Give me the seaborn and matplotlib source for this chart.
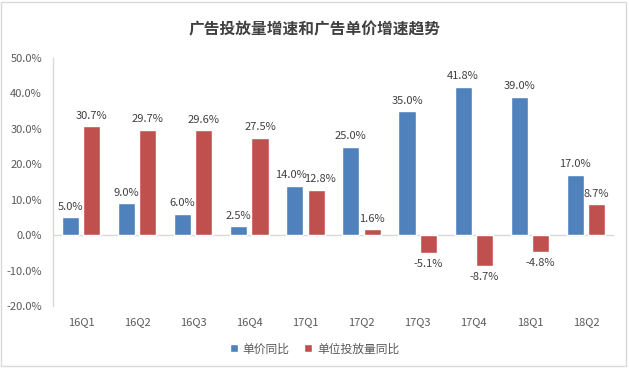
import matplotlib
matplotlib.use("Agg")
import matplotlib.pyplot as plt
import seaborn as sns
import pandas as pd
from matplotlib.patches import Rectangle

categories = ["16Q1", "16Q2", "16Q3", "16Q4", "17Q1", "17Q2", "17Q3", "17Q4", "18Q1", "18Q2"]
price_yoy = [5.0, 9.0, 6.0, 2.5, 14.0, 25.0, 35.0, 41.8, 39.0, 17.0]
volume_yoy = [30.7, 29.7, 29.6, 27.5, 12.8, 1.6, -5.1, -8.7, -4.8, 8.7]
series_names = ["单价同比", "单位投放量同比"]
yticks = [-20, -10, 0, 10, 20, 30, 40, 50]
title = "广告投放量增速和广告单价增速趋势"

sns.set_theme(style="white")
plt.rcParams['font.family'] = ['Noto Sans CJK SC', 'DejaVu Sans']

df = pd.DataFrame({
    "cat": categories * 2,
    "val": price_yoy + volume_yoy,
    "series": [series_names[0]] * len(categories) + [series_names[1]] * len(categories),
})

fig = plt.figure(figsize=(6.29, 3.70), dpi=100)
ax = fig.add_axes([53/629, 1 - 306/370, (614 - 53)/629, (306 - 58)/370])

palette = {series_names[0]: "#4F81BD", series_names[1]: "#C0504D"}
sns.barplot(data=df, x="cat", y="val", hue="series", order=categories,
            hue_order=series_names, palette=palette, width=0.76, gap=0.2,
            saturation=1, ax=ax, legend=True)

ax.set_ylim(-20, 50)
ax.set_yticks(yticks)
ax.set_yticklabels([f"{v:.1f}%" for v in yticks])
ax.set_xlabel("")
ax.set_ylabel("")
tcol = "#595959"
ax.tick_params(axis="both", length=0, labelsize=8, colors=tcol)
ax.tick_params(axis="y", pad=8)
ax.tick_params(axis="x", pad=8)

for s in ["top", "right", "bottom"]:
    ax.spines[s].set_visible(False)
ax.spines["left"].set_color("#D9D9D9")
ax.spines["left"].set_linewidth(1)
ax.axhline(0, color="#D9D9D9", lw=1, zorder=0)

blue_bars, red_bars = ax.containers[0], ax.containers[1]
for i in range(len(categories)):
    b, r = blue_bars[i], red_bars[i]
    hb, hr = b.get_height(), r.get_height()
    # nudge apart labels that would collide (both positive, similar heights)
    close = hb >= 0 and hr >= 0 and abs(hb - hr) < 3
    for bar, h, nudge in ((b, hb, -3 if close else 0), (r, hr, 3 if close else 0)):
        x = bar.get_x() + bar.get_width() / 2
        if h >= 0:
            ax.annotate(f"{h:.1f}%", (x, h), xytext=(nudge, 4), textcoords="offset points",
                        ha="center", va="bottom", fontsize=8, color="#404040")
        else:
            ax.annotate(f"{h:.1f}%", (x, h), xytext=(nudge, -4), textcoords="offset points",
                        ha="center", va="top", fontsize=8, color="#404040")

leg = ax.legend(loc="center", bbox_to_anchor=(0.5, 0.057), bbox_transform=fig.transFigure,
                ncol=2, frameon=False, fontsize=8.5, handlelength=0.7, handleheight=0.7,
                handletextpad=0.4, columnspacing=1.2)
for t in leg.get_texts():
    t.set_color(tcol)

fig.text(0.5, 1 - 29/370, title, ha="center", va="center", fontsize=11.3,
         fontweight="bold", color="#404040")

fig.patches.append(Rectangle((0.002, 0.01), 0.994, 0.985, transform=fig.transFigure,
                             fill=False, edgecolor="#D9D9D9", lw=1))

fig.savefig("out.png", dpi=100)
